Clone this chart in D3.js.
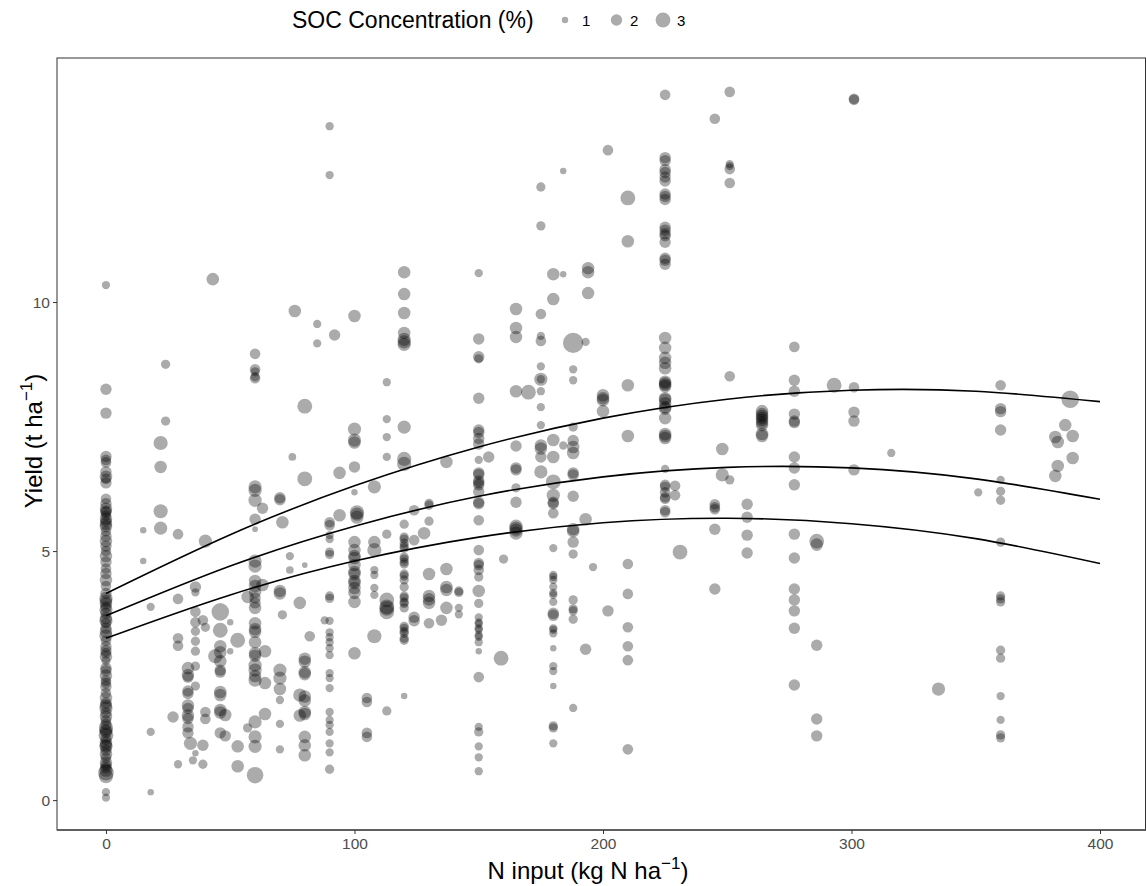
<!DOCTYPE html>
<html>
<head>
<meta charset="utf-8">
<script src="https://cdn.jsdelivr.net/npm/d3@7/dist/d3.min.js"></script>
<style>
  body { margin: 0; background: #fff; }
  svg text { font-family: "Liberation Sans", Arial, Helvetica, sans-serif; }
</style>
</head>
<body>
<svg id="chart" width="1146" height="886"></svg>
<script>
// N input levels (kg N/ha) - one entry per vertical group of points
const nLevels = [0, 15, 18, 22, 24, 27, 29, 33, 34, 35, 36, 39, 40, 43, 44, 46, 48, 50, 53, 57,
  60, 63, 64, 70, 71, 74, 75, 76, 78, 80, 82, 85, 88, 90, 92, 94, 100, 101, 105, 108,
  113, 120, 124, 128, 130, 135, 137, 142, 150, 154, 159, 160, 165, 170, 175, 180, 184, 188, 193, 194,
  196, 200, 202, 210, 225, 229, 231, 245, 248, 251, 258, 264, 277, 286, 293, 301, 316, 335, 351, 360,
  382, 383, 386, 388, 389];

// yields (t/ha) observed at each N level
const yieldByN = [
  [10.34, 8.25, 7.77, 6.9, 6.83, 6.78, 6.59, 6.49, 6.45, 6.37, 6.05, 5.95, 5.85, 5.78, 5.72, 5.65, 5.6, 5.5, 5.4, 5.3,
   5.2, 5.1, 5.0, 4.9, 4.78, 4.65, 4.55, 4.42, 4.3, 4.15, 4.05, 3.95, 3.88, 3.82, 3.75, 3.65, 3.55, 3.45, 3.38, 3.3,
   3.2, 3.08, 2.95, 2.8, 2.65, 2.5, 2.4, 2.28, 2.15, 2.05, 1.95, 1.85, 1.75, 1.68, 1.6, 1.52, 1.45, 1.37, 1.3, 1.22,
   1.15, 1.08, 1.0, 0.92, 0.85, 0.75, 0.65, 0.55, 0.48, 0.16, 0.05,
   5.55, 5.8, 4.0, 3.6, 3.0, 2.88, 2.6, 2.35, 1.9, 1.4, 1.1, 0.7, 0.6],
  [5.42, 4.8],
  [3.88, 1.37, 0.16],
  [7.17, 6.69, 5.8, 5.46],
  [8.75, 7.61],
  [1.67],
  [5.34, 4.04, 3.25, 3.1, 0.72],
  [2.65, 2.51, 2.47, 2.19, 2.14, 1.9, 1.84, 1.7, 1.64, 1.47, 1.35],
  [1.14],
  [0.8],
  [4.28, 4.17, 3.78, 3.57, 3.39, 3.19, 2.99, 2.69, 2.29, 0.94],
  [3.61, 1.1, 0.72],
  [5.2, 3.47, 1.77, 1.63],
  [10.46],
  [2.89],
  [3.78, 3.41, 3.09, 2.97, 2.79, 2.61, 2.57, 2.17, 2.11, 1.81, 1.76, 1.35],
  [1.71, 1.29],
  [3.57, 2.99],
  [3.21, 1.08, 0.68],
  [4.08, 1.45],
  [8.96, 8.65, 8.6, 8.5, 8.47, 6.29, 6.22, 6.02, 5.64, 5.44, 4.8, 4.7, 4.4, 4.3, 4.18, 4.06, 3.96, 3.86, 3.55, 3.43,
   3.38, 3.17, 2.95, 2.9, 2.71, 2.61, 2.49, 2.41, 1.57, 1.27, 1.08, 0.5],
  [5.86, 4.32],
  [2.99, 2.35, 1.73],
  [6.07, 6.03, 4.2, 4.15, 2.61, 2.45, 2.23, 2.01, 1.53, 1.02],
  [5.58, 3.72],
  [4.9, 4.62],
  [6.89],
  [9.82],
  [3.96, 2.11, 1.7],
  [7.91, 6.45, 4.72, 2.84, 2.78, 2.57, 2.53, 2.08, 2.0, 1.77, 1.73, 1.27, 1.1, 0.9],
  [3.29],
  [9.56, 9.17],
  [3.61],
  [13.53, 12.55, 5.58, 5.52, 5.32, 5.24, 4.98, 4.93, 4.1, 4.05, 3.6, 3.37, 3.27, 3.17, 3.05, 2.91, 2.55, 2.45, 2.25, 1.77,
   1.61, 1.51, 1.37, 1.14, 0.96, 0.62],
  [9.34],
  [6.57, 5.72],
  [9.72, 7.45, 7.23, 7.18, 6.69, 6.18, 5.18, 5.02, 4.9, 4.86, 4.72, 4.58, 4.54, 4.4, 4.36, 4.26, 4.16, 3.98, 2.95],
  [5.78, 5.74, 5.68],
  [2.05, 1.97, 1.35, 1.27],
  [6.29, 5.18, 5.02, 4.62, 4.52, 4.26, 4.12, 3.29],
  [8.39, 7.65, 7.29, 6.89, 5.34, 4.02, 3.88, 3.85, 3.78, 1.79],
  [10.6, 10.16, 9.78, 9.38, 9.25, 9.2, 9.15, 7.49, 6.85, 6.75, 5.54, 5.28, 5.24, 5.16, 5.1, 5.06, 4.88, 4.84, 4.78, 4.74,
   4.54, 4.5, 4.42, 4.28, 4.1, 4.06, 3.98, 3.95, 3.86, 3.49, 3.45, 3.39, 3.35, 3.25, 3.21, 2.09],
  [5.82, 5.22, 3.67, 3.6],
  [5.36],
  [5.96, 5.92, 5.6, 4.54, 4.1, 4.03, 3.96, 3.55],
  [3.61],
  [6.79, 4.64, 4.28, 4.22, 3.86],
  [4.2, 4.17, 3.86, 3.73],
  [10.58, 9.26, 8.9, 8.86, 8.07, 7.43, 7.38, 7.26, 7.15, 6.83, 6.57, 6.54, 6.41, 6.37, 6.33, 6.19, 5.98, 5.95, 5.62, 5.02,
   4.76, 4.72, 4.62, 4.48, 4.2, 3.95, 3.67, 3.57, 3.54, 3.45, 3.42, 3.31, 3.28, 3.17, 2.99, 2.47, 1.47, 1.37, 1.08, 0.86, 0.58],
  [6.89],
  [2.85],
  [4.84],
  [9.86, 9.48, 9.3, 8.21, 7.11, 6.67, 6.63, 6.27, 5.98, 5.5, 5.46, 5.42, 5.36],
  [8.19],
  [12.31, 11.53, 9.76, 9.32, 9.22, 8.71, 8.45, 8.45, 8.21, 7.89, 7.53, 7.12, 7.06, 6.89, 6.59],
  [10.56, 10.06, 7.23, 6.89, 6.39, 6.12, 5.98, 5.95, 5.76, 5.06, 4.52, 4.48, 4.42, 4.28, 4.16, 4.12, 3.98, 3.75, 3.71, 3.45,
   3.42, 3.35, 3.05, 2.69, 2.59, 2.29, 1.49, 1.45, 1.14],
  [12.63, 10.56, 7.12],
  [9.18, 8.65, 8.43, 7.49, 7.22, 7.09, 6.97, 6.57, 6.53, 6.1, 5.44, 5.4, 5.18, 4.94, 4.02, 3.84, 3.8, 3.63, 1.85],
  [9.2, 5.64, 3.03],
  [10.68, 10.6, 10.18],
  [4.68],
  [8.13, 8.07, 8.03, 7.81],
  [13.05, 3.8],
  [12.09, 11.22, 8.33, 7.31, 4.74, 4.14, 3.47, 3.09, 2.81, 1.02],
  [14.16, 12.9, 12.84, 12.66, 12.6, 12.51, 12.43, 12.17, 12.12, 12.06, 11.5, 11.44, 11.37, 11.33, 11.2, 10.88, 10.84, 10.76,
   9.28, 9.08, 8.88, 8.78, 8.67, 8.4, 8.37, 8.34, 8.31, 8.07, 8.04, 7.97, 7.89, 7.86, 7.67, 7.35, 7.31, 7.27,
   6.65, 6.33, 6.29, 6.18, 6.08, 6.05, 5.82, 5.78],
  [6.31, 6.12],
  [4.98],
  [13.68, 5.94, 5.88, 5.84, 5.44, 4.24],
  [7.05, 6.53],
  [14.22, 12.77, 12.73, 12.67, 12.39, 8.51, 6.43],
  [5.94, 5.68, 5.32, 4.96],
  [7.81, 7.75, 7.71, 7.67, 7.63, 7.58, 7.53, 7.35, 7.31],
  [9.1, 8.43, 8.21, 7.75, 7.61, 7.58, 6.89, 6.67, 6.33, 5.34, 4.86, 4.24, 4.02, 3.8, 3.45, 2.31],
  [5.2, 5.13, 3.11, 1.63, 1.29],
  [8.33],
  [14.08, 14.06, 8.29, 7.79, 7.61, 6.63],
  [6.97],
  [2.23],
  [6.18],
  [8.33, 7.86, 7.8, 7.43, 6.43, 6.2, 6.02, 5.18, 4.1, 4.04, 3.98, 3.01, 2.85, 2.09, 1.61, 1.31, 1.25],
  [7.29, 6.51],
  [7.19, 6.71],
  [7.53],
  [8.05],
  [7.31, 6.87]
];

// SOC concentration (%) for each point, same order as yieldByN
const socByN = [
  [1.3, 2, 2, 2, 1.8, 1.8, 2, 2.3, 1.8, 2, 1.8, 2, 2.3, 2, 1.8, 2.3, 2, 2.3, 1.8, 2,
   2.3, 2, 1.8, 2.3, 2, 1.8, 2, 2.3, 1.8, 2, 2.5, 2.3, 2, 2.5, 2, 2.3, 1.8, 2, 2.3, 2.5,
   1.8, 2, 1.8, 1.5, 2, 2.3, 1.8, 2, 1.8, 2.3, 2, 2.5, 2, 2.3, 1.8, 2, 2.8, 2.3, 3, 2,
   2.3, 2.5, 2, 2.3, 1.8, 2.3, 2, 3.3, 2.8, 1.3, 1.3,
   2.3, 2, 2.3, 2.5, 2, 2.3, 2, 1.8, 2.3, 2.5, 2.3, 2, 2.5],
  [1, 1],
  [1.3, 1.3, 1],
  [2.8, 2.3, 2.8, 2.5],
  [1.5, 1.5],
  [2],
  [1.8, 1.8, 1.8, 1.8, 1.3],
  [2.3, 2.3, 2, 2, 2, 2.3, 2, 2.3, 2, 2, 2],
  [2.5],
  [1.3],
  [2, 1.3, 1.8, 1.8, 1.5, 1.5, 1.5, 1.5, 1.5, 1],
  [1.8, 2, 1.5],
  [2.5, 1.5, 1.8, 1.8],
  [2.3],
  [2.8],
  [4, 3, 2.3, 2.3, 2.3, 2, 2, 2.3, 2.3, 2.3, 2.3, 2],
  [2.3, 2],
  [1, 1],
  [3, 2.3, 2.3],
  [2.3, 1.5],
  [1.8, 1.8, 1.5, 1.5, 1.8, 2.5, 2.5, 2.5, 2, 0.9, 2.5, 2.5, 2.3, 2.3, 2.3, 2, 2, 2.3, 2.3, 2.3,
   2.3, 2.3, 2.3, 2.3, 2.5, 2.5, 2.3, 2.5, 2.5, 2.5, 2.5, 3.6],
  [2, 2.3],
  [2.3, 2.3, 2.3],
  [2, 2, 2.3, 2.3, 2.5, 2.5, 2.3, 1.3, 1.3, 1.3],
  [2.3, 1.5],
  [1.3, 1.2],
  [1.2],
  [2.3],
  [2.3, 2.5, 2.3],
  [3, 3, 0.9, 2.3, 2.3, 2.3, 2.3, 2.3, 2.3, 2.3, 2.3, 2.3, 2.3, 2.3],
  [1.8],
  [1.3, 1.3],
  [1.3],
  [1.3, 1.3, 1.8, 1.8, 1.3, 1.3, 1.5, 1.5, 1.5, 1.5, 1.3, 1.3, 1.3, 1.3, 1.3, 1.3, 1.3, 1.3, 1.3, 1.3,
   1.3, 1.3, 1.3, 1.3, 1.3, 1.5],
  [2],
  [2.3, 2.3],
  [2.3, 2.5, 2.5, 2.3, 2, 1, 2.3, 2.3, 2.3, 2.3, 2.3, 2.3, 2.3, 2.3, 2.3, 2.3, 2.3, 2.3, 2.3],
  [2.8, 2.5, 2.5],
  [1.8, 1.8, 1.8, 1.8],
  [2.5, 2.3, 2.8, 1.3, 1.3, 1.3, 1.3, 2.8],
  [1.3, 1.3, 1.3, 1.3, 1.5, 3, 3, 3, 3, 1.5],
  [2.3, 2.3, 2.3, 2.3, 2.5, 2.5, 2.5, 2.5, 2.8, 2.8, 1.5, 1.5, 1.5, 1.5, 1.5, 1.5, 1.5, 1.5, 1.5, 1.5,
   1.5, 1.5, 1.5, 1.5, 1.5, 1.5, 1.5, 1.5, 1.5, 1.5, 1.5, 1.5, 1.5, 1.5, 1.5, 1],
  [1.8, 1.8, 2, 2],
  [2.3],
  [1.5, 1.5, 1.5, 2.3, 2.3, 2.3, 2.3, 1.8],
  [2],
  [2.3, 2.3, 2.3, 2.3, 2.3],
  [1.5, 1.5, 1.3, 1.3],
  [1.3, 2, 2, 1.5, 2, 2, 2, 2, 2, 1.3, 2, 2, 2, 2, 2, 2, 2, 2, 1.8, 1.8,
   1.8, 1.8, 1.8, 1.5, 2.3, 1.5, 1.3, 1.3, 1.3, 1.3, 1.3, 1.3, 1.3, 1.3, 1, 1.8, 1.3, 1.5, 1.3, 1.3, 1.3],
  [2],
  [3],
  [1.5],
  [2.3, 2.3, 2.3, 2.3, 2, 2, 2, 1.5, 2, 2.5, 2.5, 2.5, 2.5],
  [3],
  [1.5, 1.5, 1.8, 1.3, 1.8, 1.3, 2.5, 1.3, 1.3, 1.3, 1.3, 2.3, 2.3, 2, 2.5],
  [2.3, 2.3, 2.3, 2.3, 3, 2.5, 2, 2, 1.8, 1.3, 1.3, 1.3, 1.3, 1.3, 1.3, 1.3, 1.3, 2, 2, 1.3,
   1.3, 1.3, 1, 1.3, 1.3, 1, 1.5, 1.5, 1.3],
  [1, 1, 1.3],
  [5.2, 1.3, 1.3, 1.5, 2, 2.3, 2.3, 2, 2, 2, 2.3, 2.3, 2, 1.5, 1.5, 1.5, 1.5, 1.5, 1.3],
  [1.3, 2.3, 2],
  [2.3, 2.3, 2.3],
  [1.3],
  [2.3, 2.3, 2.3, 2.3],
  [1.8, 2],
  [3, 2.3, 2.3, 2.3, 1.8, 1.8, 1.8, 1.8, 1.8, 1.8],
  [1.8, 2, 2, 2, 2, 2, 2, 2, 2, 2, 2, 2, 2, 2, 2, 2, 2, 2,
   2.3, 2.3, 2.3, 2.3, 2.3, 2.3, 2.3, 2.3, 2.3, 2.3, 2.3, 2.3, 2.3, 2.3, 2.3, 2.3, 2.3, 2.3,
   1.3, 1.8, 1.8, 1.8, 1.8, 1.8, 1.8, 1.8],
  [1.8, 1.8],
  [3],
  [1.8, 1.8, 1.8, 1.8, 2, 2],
  [2.3, 2.5],
  [1.8, 1.3, 1.3, 1.8, 1.8, 1.8, 1.5],
  [2, 2, 2, 2],
  [2.3, 2.3, 2.3, 2.3, 2.3, 2.3, 2.3, 2.3, 2.3],
  [1.8, 2, 2, 2, 2, 2, 2, 2, 2, 2, 2, 2, 2, 2, 2, 2],
  [3, 2.3, 2, 2, 2],
  [3],
  [1.8, 1.8, 1.8, 2, 2, 2],
  [1.3],
  [2.5],
  [1.3],
  [1.8, 2, 2, 2, 1.3, 1.5, 1.5, 1.5, 1.5, 1.5, 1.5, 1.5, 1.5, 1.3, 1.3, 1.5, 1.5],
  [2.3, 2.3],
  [2.3, 2.3],
  [2.3],
  [4],
  [2.3, 2.3]
];

// fitted response curves (t/ha at each N input)
const curveN = [0, 50, 100, 150, 200, 250, 300, 350, 400];
const upperFit = [4.15, 5.33, 6.31, 7.09, 7.67, 8.05, 8.23, 8.21, 8.0];
const middleFit = [3.7, 4.70, 5.50, 6.10, 6.49, 6.68, 6.67, 6.45, 6.04];
const lowerFit = [3.25, 4.12, 4.80, 5.28, 5.57, 5.66, 5.55, 5.25, 4.75];

const xTicks = [0, 100, 200, 300, 400];
const yTicks = [0, 5, 10];
const legendSoc = [1, 2, 3];

const svg = d3.select("#chart");

// panel
const panel = { left: 57, top: 58, right: 1145.5, bottom: 830 };

const x = d3.scaleLinear().domain([-19.7, 418.5]).range([57, 1146]);
const y = d3.scaleLinear().domain([-0.6, 14.9]).range([830, 58]);

// size: area grows linearly with SOC
const sizeArea = d3.scaleLinear().domain([1, 3]).range([10.4, 55]);
const radius = v => Math.sqrt(Math.max(sizeArea(v), 4));

// flatten groups into points
const points = [];
nLevels.forEach((n, i) => {
  yieldByN[i].forEach((yv, j) => {
    const s = socByN[i][j] !== undefined ? socByN[i][j] : 2;
    points.push({ n: n, yield: yv, soc: s });
  });
});

svg.append("rect")
  .attr("x", 0).attr("y", 0).attr("width", 1146).attr("height", 886)
  .attr("fill", "#fff");

const plot = svg.append("g");

plot.selectAll("circle.pt")
  .data(points)
  .enter()
  .append("circle")
  .attr("class", "pt")
  .attr("cx", d => x(d.n))
  .attr("cy", d => y(d.yield))
  .attr("r", d => radius(d.soc))
  .attr("fill", "#000")
  .attr("fill-opacity", 0.33);

// fitted lines
const line = d3.line()
  .x(d => x(d[0]))
  .y(d => y(d[1]))
  .curve(d3.curveNatural);

[upperFit, middleFit, lowerFit].forEach(fit => {
  plot.append("path")
    .datum(curveN.map((n, i) => [n, fit[i]]))
    .attr("d", line)
    .attr("fill", "none")
    .attr("stroke", "#000")
    .attr("stroke-width", 1.6);
});

// panel border
svg.append("rect")
  .attr("x", panel.left).attr("y", panel.top)
  .attr("width", panel.right - panel.left)
  .attr("height", panel.bottom - panel.top)
  .attr("fill", "none")
  .attr("stroke", "#333")
  .attr("stroke-width", 1);

svg.append("line")
  .attr("x1", panel.left).attr("x2", 1146)
  .attr("y1", panel.bottom).attr("y2", panel.bottom)
  .attr("stroke", "#4d4d4d")
  .attr("stroke-width", 1.6);

// axes
const xAxis = svg.append("g")
  .attr("transform", `translate(0, ${panel.bottom})`)
  .call(d3.axisBottom(x).tickValues(xTicks).tickSize(4).tickPadding(4));
const yAxis = svg.append("g")
  .attr("transform", `translate(${panel.left}, 0)`)
  .call(d3.axisLeft(y).tickValues(yTicks).tickSize(4).tickPadding(3));

[xAxis, yAxis].forEach(ax => {
  ax.select(".domain").remove();
  ax.selectAll(".tick line").attr("stroke", "#333");
  ax.selectAll(".tick text")
    .attr("fill", "#4d4d4d")
    .style("font-size", "15.5px")
    .style("font-family", "'Liberation Sans', Arial, sans-serif");
});

// axis titles
const xTitle = svg.append("text")
  .attr("x", 588)
  .attr("y", 879)
  .attr("text-anchor", "middle")
  .attr("fill", "#000")
  .style("font-size", "24px");
xTitle.append("tspan").text("N input (kg N ha");
xTitle.append("tspan").attr("dy", -10).style("font-size", "17px").text("\u22121");
xTitle.append("tspan").attr("dy", 10).text(")");

const yTitle = svg.append("text")
  .attr("transform", "translate(42, 441) rotate(-90)")
  .attr("text-anchor", "middle")
  .attr("fill", "#000")
  .style("font-size", "24px");
yTitle.append("tspan").text("Yield (t ha");
yTitle.append("tspan").attr("dy", -10).style("font-size", "17px").text("\u22121");
yTitle.append("tspan").attr("dy", 10).text(")");

// legend
svg.append("text")
  .attr("x", 292)
  .attr("y", 27.5)
  .attr("fill", "#000")
  .style("font-size", "23px")
  .text("SOC Concentration (%)");

const legendX = [565, 616.5, 663];
const legendLabelX = [582, 630, 677];
legendSoc.forEach((v, i) => {
  svg.append("circle")
    .attr("cx", legendX[i])
    .attr("cy", 20)
    .attr("r", radius(v))
    .attr("fill", "#000")
    .attr("fill-opacity", 0.33);
  svg.append("text")
    .attr("x", legendLabelX[i])
    .attr("y", 26)
    .attr("fill", "#000")
    .style("font-size", "15px")
    .text(v);
});
</script>
</body>
</html>
